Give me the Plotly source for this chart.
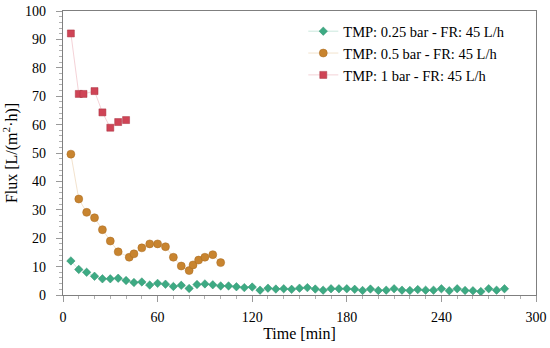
import plotly.graph_objects as go

# Data
time_025 = list(range(5, 285, 5))
flux_025 = [12.0, 9.0, 8.0, 6.6, 5.7, 5.7, 5.9, 5.1, 4.4, 4.6,
            3.5, 4.1, 3.8, 3.0, 3.4, 2.3, 3.7, 3.9, 3.6, 3.2,
            3.2, 2.9, 2.6, 2.8, 1.7, 2.4, 2.1, 2.2, 2.0, 2.4,
            2.6, 2.1, 1.7, 2.2, 2.2, 2.2, 2.0, 1.6, 2.1, 1.6,
            1.7, 2.2, 1.7, 1.6, 1.9, 1.7, 1.7, 2.2, 1.5, 2.2,
            1.6, 1.5, 1.2, 2.2, 1.7, 2.2]

time_05 = [5, 10, 15, 20, 25, 30, 35, 42, 45, 50, 55, 60, 65, 70, 75, 80, 82.5, 86, 90, 95, 100]
flux_05 = [49.6, 33.8, 29.1, 27.2, 23.0, 19.0, 15.2, 13.3, 14.5, 16.6, 18.0, 18.0,
           17.0, 13.3, 10.2, 8.6, 10.6, 12.3, 13.3, 14.2, 11.4]

time_1 = [5, 10, 13, 20, 25, 30, 35, 40]
flux_1 = [92.1, 70.8, 70.8, 71.8, 64.3, 58.9, 60.9, 61.6]

names = ["TMP: 0.25 bar - FR: 45 L/h", "TMP: 0.5 bar - FR: 45 L/h", "TMP: 1 bar - FR: 45 L/h"]

FONT = "Liberation Serif"

fig = go.Figure()
fig.add_trace(go.Scatter(
    x=time_025, y=flux_025, name=names[0], mode="lines+markers",
    line=dict(color="rgba(61,170,131,0.35)", width=0.8),
    marker=dict(symbol="diamond", size=6.5, color="#3daa83",
                line=dict(color="#2f8f6c", width=0.5)),
))
fig.add_trace(go.Scatter(
    x=time_05, y=flux_05, name=names[1], mode="lines+markers",
    line=dict(color="rgba(200,132,47,0.3)", width=0.8),
    marker=dict(symbol="circle", size=8, color="#c8842f",
                line=dict(color="#a86a20", width=0.5)),
))
fig.add_trace(go.Scatter(
    x=time_1, y=flux_1, name=names[2], mode="lines+markers",
    line=dict(color="rgba(207,68,86,0.3)", width=0.8),
    marker=dict(symbol="square", size=7, color="#cf4456",
                line=dict(color="#a8303f", width=0.5)),
))

axis_common = dict(
    showgrid=False, zeroline=False, showline=True, linecolor="#7f7f7f", linewidth=1.2,
    mirror=True, ticks="outside", tickcolor="#9a9a9a", ticklen=6, tickwidth=1,
    tickfont=dict(family=FONT, size=14, color="black"), automargin=False,
)

fig.update_layout(
    width=550, height=348,
    margin=dict(l=63, r=14, t=11, b=53),
    paper_bgcolor="white", plot_bgcolor="white",
    font=dict(family=FONT, color="black"),
    xaxis=dict(range=[0, 300], tickvals=[0, 60, 120, 180, 240, 300], ticklabelstandoff=3,
               minor=dict(dtick=10, ticks="outside", ticklen=3, tickcolor="#b0b0b0"),
               title=dict(text="Time [min]", font=dict(family=FONT, size=16), standoff=3),
               **axis_common),
    yaxis=dict(range=[0, 100], dtick=10, ticklabelstandoff=7,
               minor=dict(dtick=2, ticks="outside", ticklen=3, tickcolor="#b0b0b0"),
               title=dict(text="Flux [L/(m<sup>2</sup>·h)]", font=dict(family=FONT, size=16), standoff=3),
               **axis_common),
    legend=dict(x=0.508, y=0.985, xanchor="left", yanchor="top",
                font=dict(family=FONT, size=14.5), bgcolor="rgba(0,0,0,0)",
                tracegroupgap=0, itemwidth=30),
    showlegend=True,
)

fig.write_html("out.html", config={"displayModeBar": False},
               post_script="document.body.style.margin='0';document.body.style.overflow='hidden';")
